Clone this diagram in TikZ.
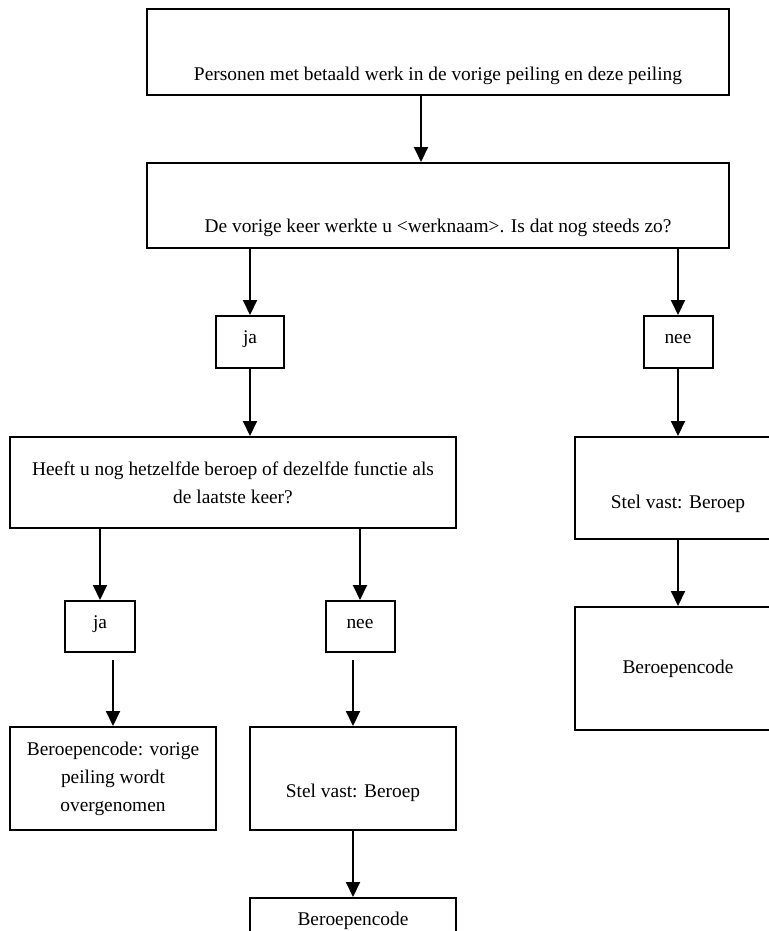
\documentclass[tikz,border=0pt]{standalone}
\usepackage{fontspec}
\setmainfont{Liberation Serif}
\usetikzlibrary{arrows.meta}

\begin{document}
\begin{tikzpicture}[x=1pt, y=-1pt,
    caja/.style={draw, line width=2pt, inner sep=0pt, align=center,
        font=\fontsize{19.4}{28}\selectfont},
    flecha/.style={line width=2pt, -{Triangle[width=14pt,length=15pt]}}]
    % Marco de la figura
    \useasboundingbox (0,0) rectangle (768,931);
    
    % Cajas principales
    \node[caja, minimum width=582, text height=72, text depth=14] (A) at (438,52)
        {Personen met betaald werk in de vorige peiling en deze peiling};
    \node[caja, minimum width=582, text height=69, text depth=16] (B) at (438,205.5)
        {De vorige keer werkte u <werknaam>. Is dat nog steeds zo?};
    
    % Primeras respuestas
    \node[caja, minimum width=68, text height=27, text depth=25] (ja1) at (250,342) {ja};
    \node[caja, minimum width=69, text height=27, text depth=25] (nee1) at (678,342) {nee};
    
    % Segunda pregunta y rama derecha
    \node[caja, minimum width=446, minimum height=91] (C) at (233,482.5)
        {Heeft u nog hetzelfde beroep of dezelfde functie als\\de laatste keer?};
    \node[caja, minimum width=206, text height=71, text depth=31] (D) at (678,488)
        {Stel vast: Beroep};
    \node[caja, minimum width=206, minimum height=123] (H) at (678,668.5)
        {Beroepencode};
    
    % Segundas respuestas
    \node[caja, minimum width=70, text height=27, text depth=24] (ja2) at (100,626.5) {ja};
    \node[caja, minimum width=69, text height=27, text depth=24] (nee2) at (360,626.5) {nee};
    
    % Cajas finales
    \node[caja, minimum width=206, minimum height=103] (E) at (113,778.5)
        {Beroepencode: vorige\\peiling wordt\\overgenomen};
    \node[caja, minimum width=206, text height=70, text depth=33] (F) at (353,778.5)
        {Stel vast: Beroep};
    \node[caja, minimum width=206, text height=27, text depth=35] (G) at (353,929)
        {Beroepencode};
    
    % Flechas
    \draw[flecha] ([xshift=-17pt]A.south) -- ([xshift=-17pt]B.north);
    \draw[flecha] (B.south -| ja1.north) -- (ja1.north);
    \draw[flecha] (B.south -| nee1.north) -- (nee1.north);
    \draw[flecha] (ja1.south) -- (ja1.south |- C.north);
    \draw[flecha] (nee1.south) -- (nee1.south |- D.north);
    \draw[flecha] (D.south) -- (H.north);
    \draw[flecha] (C.south -| ja2.north) -- (ja2.north);
    \draw[flecha] (C.south -| nee2.north) -- (nee2.north);
    \draw[flecha] ([yshift=-7pt]ja2.south -| E.north) -- (E.north);
    \draw[flecha] ([yshift=-7pt]nee2.south -| F.north) -- (F.north);
    \draw[flecha] (F.south) -- (G.north);
    
\end{tikzpicture}
\end{document}
